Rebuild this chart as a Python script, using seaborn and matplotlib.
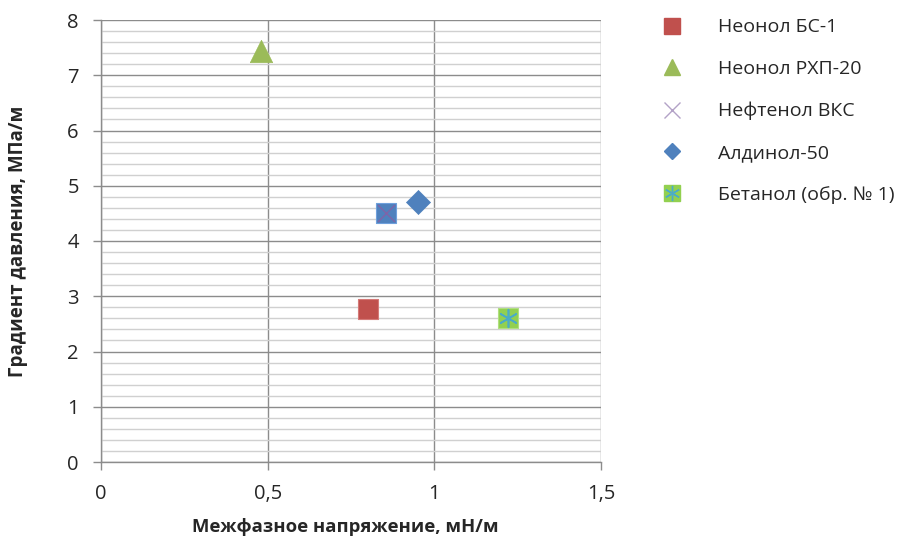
import matplotlib
matplotlib.use("Agg")
import matplotlib.pyplot as plt
import seaborn as sns
import pandas as pd
from matplotlib.lines import Line2D
from matplotlib.legend_handler import HandlerTuple
from matplotlib.ticker import MultipleLocator, FuncFormatter

# Data
series_names = ["Неонол БС-1", "Неонол РХП-20", "Нефтенол ВКС", "Алдинол-50", "Бетанол (обр. № 1)"]
tension = [0.80, 0.48, 0.855, 0.95, 1.22]
gradient = [2.77, 7.43, 4.50, 4.71, 2.61]
extra_x = [0.855]
extra_y = [4.50]

sns.set_style("white")
plt.rcParams['font.family'] = ['Open Sans', 'DejaVu Sans']

fig = plt.figure(figsize=(9.11, 5.41), dpi=100)
ax = fig.add_axes([101/911, 1 - 462/541, 500/911, 442/541])

df = pd.DataFrame({"x": tension, "y": gradient, "name": series_names})

# hidden series (blue square under Нефтенол ВКС)
sns.scatterplot(x=extra_x, y=extra_y, marker="s", s=190, color="#4f81bd",
                edgecolor="#6fa0dc", linewidth=0.8, ax=ax, zorder=3, legend=False)
# Неонол БС-1
sns.scatterplot(data=df.iloc[[0]], x="x", y="y", marker="s", s=190, color="#c0504d",
                edgecolor="#d47a78", linewidth=0.8, ax=ax, zorder=3, legend=False)
# Неонол РХП-20
sns.scatterplot(data=df.iloc[[1]], x="x", y="y", marker="^", s=260, color="#9bbb59",
                edgecolor="#9bbb59", linewidth=0.5, ax=ax, zorder=3, legend=False)
# Нефтенол ВКС
sns.scatterplot(data=df.iloc[[2]], x="x", y="y", marker="x", s=150, color="#7f64a8",
                linewidth=1.0, ax=ax, zorder=4, legend=False)
# Алдинол-50
sns.scatterplot(data=df.iloc[[3]], x="x", y="y", marker="D", s=150, color="#4f81bd",
                edgecolor="#4f81bd", linewidth=0.5, ax=ax, zorder=3, legend=False)
# Бетанол
sns.scatterplot(data=df.iloc[[4]], x="x", y="y", marker="s", s=190, color="#92d050",
                edgecolor="#b0e080", linewidth=0.8, ax=ax, zorder=3, legend=False)
sns.scatterplot(data=df.iloc[[4]], x="x", y="y", marker=(6, 2, 0), s=160, color="#4bacc6",
                linewidth=1.2, ax=ax, zorder=4, legend=False)

ax.set_xlim(0, 1.5)
ax.set_ylim(0, 8)
ax.xaxis.set_major_locator(MultipleLocator(0.5))
ax.yaxis.set_major_locator(MultipleLocator(1))
ax.yaxis.set_minor_locator(MultipleLocator(0.2))
fmt = FuncFormatter(lambda v, p: ("%g" % v).replace(".", ","))
ax.xaxis.set_major_formatter(fmt)
ax.yaxis.set_major_formatter(fmt)

ax.grid(which="major", axis="both", color="#8c8c8c", linewidth=1.0)
ax.grid(which="minor", axis="y", color="#d0d0d0", linewidth=1.0)
ax.set_axisbelow(True)
for side in ["top", "right"]:
    ax.spines[side].set_visible(False)
for side in ["left", "bottom"]:
    ax.spines[side].set_color("#8c8c8c")
    ax.spines[side].set_linewidth(1.0)

ax.tick_params(axis="y", which="major", length=6, width=1, color="#8c8c8c",
               left=True, labelsize=14.5, pad=10)
ax.tick_params(axis="y", which="minor", length=0)
ax.tick_params(axis="x", which="major", length=6, width=1, color="#8c8c8c",
               bottom=True, labelsize=14.5, pad=10)

ax.set_xlabel("Межфазное напряжение, мН/м", fontsize=13.3, fontweight="bold")
ax.set_ylabel("Градиент давления, МПа/м", fontsize=13.5, fontweight="bold", labelpad=28)
ax.xaxis.set_label_coords(0.488, -0.126)

handles = [
    Line2D([], [], linestyle="none", marker="s", markersize=11, color="#c0504d"),
    Line2D([], [], linestyle="none", marker="^", markersize=12, color="#9bbb59"),
    Line2D([], [], linestyle="none", marker="x", markersize=11, color="#b3a2c7", markeredgewidth=1.0),
    Line2D([], [], linestyle="none", marker="D", markersize=8.5, color="#4f81bd"),
    (Line2D([], [], linestyle="none", marker="s", markersize=11, color="#92d050"),
     Line2D([], [], linestyle="none", marker=(6, 2, 0), markersize=11, color="#4bacc6", markeredgewidth=1.0)),
]
fig.legend(handles, series_names, loc="upper left", bbox_to_anchor=(640/911, 1 - 1/541),
           frameon=False, fontsize=14, handlelength=1.5, handletextpad=1.6,
           labelspacing=1.22, handler_map={tuple: HandlerTuple(ndivide=1, pad=0)})

fig.savefig("out.png", dpi=100)
